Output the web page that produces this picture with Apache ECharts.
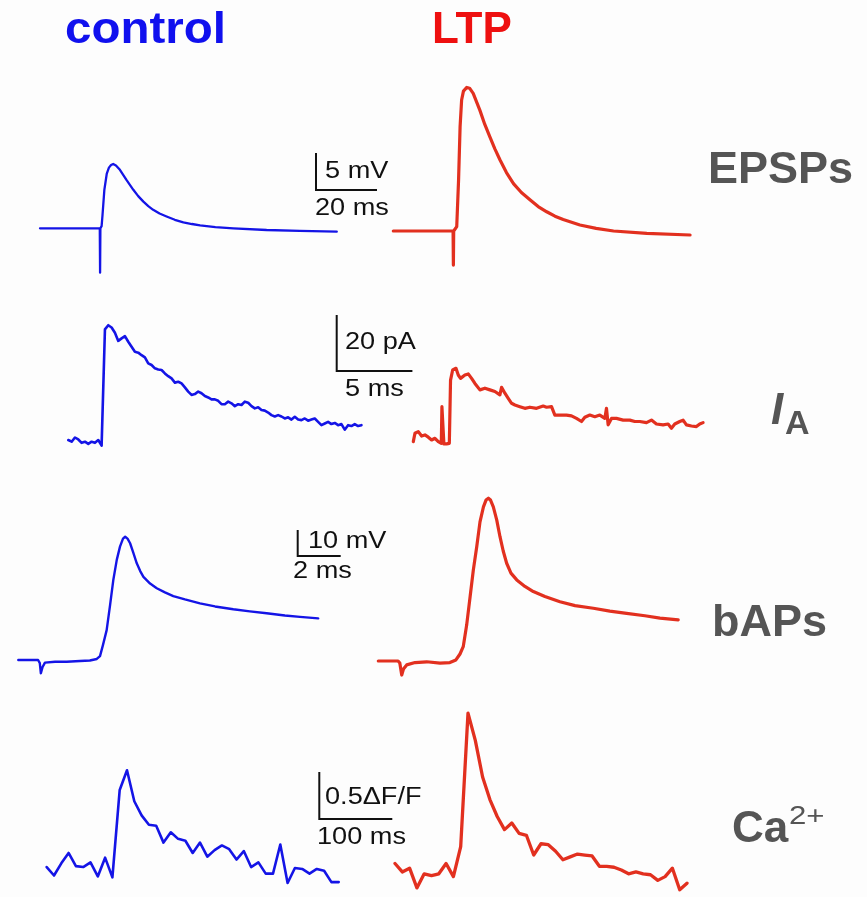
<!DOCTYPE html>
<html>
<head>
<meta charset="utf-8">
<script src="https://cdn.jsdelivr.net/npm/echarts@6.0.0/dist/echarts.min.js"></script>
<style>
  html, body { margin: 0; padding: 0; background: #fdfdfd; }
  #chart { width: 867px; height: 897px; }
</style>
</head>
<body>
<div id="chart"></div>
<script>
// ---------- recorded traces ----------
// EPSPs: [time ms, membrane potential mV relative to rest]
const epspControl = [
  [0, 0], [19.6, 0], [19.7, -6.0], [19.8, 0], [20.2, 0.3], [20.5, 1.8], [21.1, 5.2], [21.9, 7.4],
  [22.6, 8.2], [23.3, 8.55], [24.0, 8.7], [24.9, 8.5], [26.2, 7.9], [28.4, 6.5], [30.6, 5.2],
  [32.2, 4.35], [33.9, 3.6], [35.5, 3.0], [37.1, 2.5], [39.2, 2.0], [41.5, 1.6], [44.2, 1.15],
  [47.0, 0.8], [49.8, 0.58], [52.5, 0.4], [57.5, 0.17], [63.4, 0], [74.3, -0.23],
  [85.2, -0.36], [97.3, -0.46]
];
const epspLTP = [
  [0, 0], [19.6, 0], [19.7, -4.6], [19.8, 0], [20.8, 0.6], [21.4, 6.9], [21.9, 14.1], [22.4, 17.7],
  [23.0, 18.9], [24.1, 19.4], [25.0, 19.3], [26.2, 18.6], [28.4, 16.3], [30.0, 14.4], [31.7, 12.7],
  [33.3, 11.1], [35.0, 9.6], [37.1, 7.9], [39.4, 6.4], [42.0, 5.2], [44.9, 4.2], [47.5, 3.3],
  [50.3, 2.6], [53.0, 2.0], [55.7, 1.55], [61.2, 0.81], [66.5, 0.35], [72.2, 0], [83.1, -0.31],
  [97.3, -0.54]
];

// A-type K+ current: control sampled every 0.22 ms (pA)
const iaSampleMs = 0.22;
const iaControl = [
  0.6, 0, 1.5, 0.8, -0.4, 0, -0.8, 0, -0.4, 0.6,
  -1.4, 40.1, 41.6, 40.8, 38.9, 36.0, 36.9, 37.7, 35.7, 33.9,
  32.1, 31.8, 30.9, 30.1, 28.0, 27.4, 26.2, 25.8, 25.6, 24.4,
  23.4, 22.6, 21.1, 21.4, 20.8, 19.4, 17.9, 16.7, 17.0, 17.9,
  17.3, 16.3, 15.8, 15.1, 15.1, 14.6, 13.4, 13.4, 14.3, 13.7,
  12.7, 13.4, 13.1, 14.3, 13.9, 12.7, 11.9, 12.3, 11.3, 11.1,
  10.4, 9.5, 9.0, 9.5, 9.0, 8.3, 8.7, 7.9, 8.9, 7.9,
  7.7, 8.3, 7.5, 7.9, 8.3, 7.1, 5.9, 6.5, 7.1, 6.3,
  6.7, 5.9, 6.3, 4.3, 5.9, 5.6, 6.3, 5.6, 5.9
];
// after LTP: [time ms, pA], includes the stimulus artifact
const iaLTP = [
  [0, -1.2], [0.11, 1.8], [0.33, 2.4], [0.55, 0.8], [0.77, 1.2], [0.99, 0.4], [1.21, -0.6],
  [1.43, 0], [1.65, -1.2], [1.85, -1.8], [1.89, 11.3], [1.98, 11.3], [2.02, -2.0], [2.2, -2.0],
  [2.38, -1.8], [2.46, 20.8], [2.6, 24.4], [2.82, 25.0], [2.97, 22.6], [3.12, 21.4], [3.41, 22.6],
  [3.63, 23.0], [3.85, 21.4], [4.07, 19.6], [4.4, 17.3], [4.73, 17.9], [5.06, 17.3], [5.39, 16.7],
  [5.72, 15.5], [5.83, 18.2], [6.05, 16.1], [6.27, 14.3], [6.49, 12.5], [6.71, 11.9], [7.04, 11.3],
  [7.37, 10.7], [7.7, 11.1], [8.14, 10.7], [8.58, 11.5], [8.8, 11.1], [9.13, 11.3], [9.35, 8.3],
  [9.68, 8.3], [10.12, 8.3], [10.45, 8.0], [10.78, 7.1], [11.11, 6.0], [11.33, 7.5], [11.66, 8.3],
  [11.99, 7.7], [12.32, 8.3], [12.65, 7.1], [12.76, 10.7], [12.87, 4.8], [13.09, 7.1], [13.42, 7.1],
  [13.86, 6.5], [14.3, 6.5], [14.63, 6.0], [14.96, 6.0], [15.4, 5.6], [15.73, 6.5], [16.06, 5.1],
  [16.5, 4.8], [16.83, 5.1], [17.05, 3.6], [17.27, 5.1], [17.6, 6.0], [17.82, 6.5], [18.04, 4.8],
  [18.37, 4.4], [18.7, 4.2], [18.92, 5.1], [19.14, 5.6]
];

// back-propagating APs: [time ms, mV relative to rest]
const bapControl = [
  [0, 0], [0.92, 0], [1.0, -1.2], [1.05, -5.1], [1.13, -2.7], [1.24, -1.0], [1.71, -0.65],
  [2.25, -0.65], [2.87, -0.4], [3.33, -0.2], [3.65, 0.4], [3.8, 1.5], [3.94, 5.8], [4.11, 11.5],
  [4.27, 21.2], [4.42, 30.8], [4.58, 38.5], [4.73, 43.6], [4.87, 46.7], [4.97, 47.4], [5.08, 46.7],
  [5.2, 44.9], [5.34, 41.5], [5.51, 37.2], [5.67, 34.2], [5.82, 32.0], [6.13, 29.4], [6.44, 27.6],
  [6.82, 26.0], [7.21, 24.6], [7.75, 23.3], [8.45, 21.8], [9.15, 20.6], [10.0, 19.5], [10.77, 18.7],
  [11.55, 18.0], [12.4, 17.1], [13.1, 16.6], [13.95, 16.0]
];
const bapLTP = [
  [0, 0], [0.92, 0], [1.0, -0.8], [1.09, -5.4], [1.17, -3.1], [1.32, -1.5], [1.71, -0.6],
  [2.25, -0.3], [2.87, -0.8], [3.33, -0.6], [3.61, 0.4], [3.8, 2.7], [3.95, 5.5], [4.11, 13.8],
  [4.27, 24.7], [4.42, 35.0], [4.58, 44.0], [4.73, 53.5], [4.89, 59.3], [5.01, 61.9], [5.12, 62.6],
  [5.22, 61.9], [5.35, 59.3], [5.51, 54.2], [5.66, 47.8], [5.81, 42.3], [5.97, 37.6], [6.17, 33.8],
  [6.44, 31.2], [6.82, 28.7], [7.21, 26.7], [7.75, 24.8], [8.45, 22.8], [9.15, 21.3], [10.0, 20.3],
  [10.77, 19.2], [11.55, 18.3], [12.4, 17.4], [13.1, 16.5], [13.95, 15.8]
];

// dendritic Ca2+ transients, one frame every 10 ms (ΔF/F)
const caSampleMs = 10;
const caControl = [
  0.01, -0.08, 0.05, 0.16, 0.02, 0.01, 0.06, -0.09, 0.11, -0.10,
  0.83, 1.04, 0.71, 0.56, 0.46, 0.45, 0.27, 0.38, 0.31, 0.29,
  0.16, 0.27, 0.12, 0.19, 0.24, 0.20, 0.09, 0.18, 0.01, 0.06,
  -0.06, -0.06, 0.25, -0.16, 0.00, -0.01, -0.06, -0.01, -0.03, -0.15, -0.15
];
const caLTP = [
  0.08, -0.01, 0.03, -0.18, -0.03, -0.05, -0.03, 0.08, -0.06, 0.26,
  1.68, 1.39, 1.00, 0.76, 0.58, 0.44, 0.51, 0.40, 0.38, 0.17,
  0.29, 0.28, 0.21, 0.12, 0.15, 0.18, 0.17, 0.16, 0.05, 0.05,
  0.04, 0.01, -0.03, -0.01, -0.03, -0.04, -0.10, -0.06, 0.03, -0.20, -0.13
];

// scale bars: [amplitude, duration] and their captions
const epspScale = [5, 20];
const iaScale = [20, 5];
const bapScale = [10, 2];
const caScale = [0.5, 100];
const epspScaleText = ['5 mV', '20 ms'];
const iaScaleText = ['20 pA', '5 ms'];
const bapScaleText = ['10 mV', '2 ms'];
const caScaleText = ['0.5\u0394F/F', '100 ms'];

const columnTitles = ['control', 'LTP'];
const rowTitles = ['EPSPs', 'I', 'A', 'bAPs', 'Ca', '2+'];

// ---------- layout ----------
const BLUE = '#1414e6';
const RED = '#e2301f';
const FONT = '"Liberation Sans", Arial, Helvetica, sans-serif';

// Each panel: origin pixel (time 0, value 0), pixels per unit on x and y, and visible data range.
function panel(x0, y0, pxX, pxY, tMin, tMax, vMin, vMax) {
  return { x0, y0, pxX, pxY, tMin, tMax, vMin, vMax };
}
const panels = [
  panel(40, 228.3, 61 / 20, 37 / 5, 0, 115, -7, 11),        // EPSP control
  panel(393.3, 231, 61 / 20, 37 / 5, 0, 100, -6, 21),       // EPSP LTP
  panel(68.3, 441.7, 75.7 / 5, 56 / 20, 0, 24, -3, 48),     // I_A control
  panel(413.3, 438.3, 75.7 / 5, 56 / 20, 0, 20, -3, 30),    // I_A LTP
  panel(18.3, 660, 43 / 2, 26 / 10, 0, 15.5, -7, 52),       // bAP control
  panel(378.3, 661, 43 / 2, 26 / 10, 0, 14.5, -7, 66),      // bAP LTP
  panel(46.7, 868, 73 / 100, 47 / 0.5, 0, 480, -0.2, 1.1),  // Ca control
  panel(395, 871, 73 / 100, 47 / 0.5, 0, 410, -0.25, 1.75)  // Ca LTP
];

const grids = panels.map(p => ({
  left: p.x0 + p.tMin * p.pxX,
  top: p.y0 - p.vMax * p.pxY,
  width: (p.tMax - p.tMin) * p.pxX,
  height: (p.vMax - p.vMin) * p.pxY
}));
const xAxes = panels.map((p, i) => ({ type: 'value', gridIndex: i, min: p.tMin, max: p.tMax, show: false }));
const yAxes = panels.map((p, i) => ({ type: 'value', gridIndex: i, min: p.vMin, max: p.vMax, show: false }));

const sampled = (vals, dt) => vals.map((v, i) => [i * dt, v]);

function trace(data, idx, color, width) {
  return {
    type: 'line', data, xAxisIndex: idx, yAxisIndex: idx,
    showSymbol: false, symbol: 'none', clip: false, silent: true,
    lineStyle: { color, width, join: 'round', cap: 'round' }
  };
}

// Scale bar drawn in the control panel's data units; corner given in pixels.
function scaleBar(idx, cornerPx, scale) {
  const p = panels[idx];
  const t = (cornerPx[0] - p.x0) / p.pxX;
  const v = (p.y0 - cornerPx[1]) / p.pxY;
  return {
    type: 'line', xAxisIndex: idx, yAxisIndex: idx, showSymbol: false, symbol: 'none',
    clip: false, silent: true,
    data: [[t, v + scale[0]], [t, v], [t + scale[1], v]],
    lineStyle: { color: '#111', width: 2, join: 'miter', cap: 'butt' }
  };
}

const series = [
  trace(epspControl, 0, BLUE, 2.3),
  trace(epspLTP, 1, RED, 3.2),
  trace(sampled(iaControl, iaSampleMs), 2, BLUE, 2.6),
  trace(iaLTP, 3, RED, 3.2),
  trace(bapControl, 4, BLUE, 2.4),
  trace(bapLTP, 5, RED, 3.2),
  trace(sampled(caControl, caSampleMs), 6, BLUE, 2.6),
  trace(sampled(caLTP, caSampleMs), 7, RED, 3.3),
  scaleBar(0, [316, 190], epspScale),
  scaleBar(2, [336.7, 371], iaScale),
  scaleBar(4, [297.7, 556], bapScale),
  scaleBar(6, [319.3, 819], caScale)
];

// Text placed at (x, y) = left edge, vertical centre; sx widens the glyphs.
function label(text, x, y, size, color, weight, style, sx) {
  return {
    type: 'text', silent: true, z: 10, x, y, scaleX: sx || 1,
    style: {
      text, x: 0, y: 0, fill: color,
      font: (style || 'normal') + ' ' + (weight || 'normal') + ' ' + size + 'px ' + FONT,
      align: 'left', verticalAlign: 'middle',
      textAlign: 'left', textVerticalAlign: 'middle'
    }
  };
}

const GRAY = '#555555';
const INK = '#111111';
const SX = 1.18;
const FS = 23;
const graphics = [
  label(columnTitles[0], 65, 31, 44, '#1010ee', 'bold', null, 1.08),
  label(columnTitles[1], 432, 31, 44, '#ee1010', 'bold'),

  label(rowTitles[0], 708, 171, 45, GRAY, 'bold'),
  label(rowTitles[1], 771, 412, 44, GRAY, 'bold', 'italic'),
  label(rowTitles[2], 785, 425, 34, GRAY, 'bold'),
  label(rowTitles[3], 712, 624, 45, GRAY, 'bold'),
  label(rowTitles[4], 732, 830, 44, GRAY, 'bold'),
  label(rowTitles[5], 789, 817, 26, GRAY, 'normal', null, 1.2),

  label(epspScaleText[0], 325, 172, FS, INK, null, null, SX),
  label(epspScaleText[1], 315, 209, FS, INK, null, null, SX),
  label(iaScaleText[0], 345, 343, FS, INK, null, null, SX),
  label(iaScaleText[1], 345, 390, FS, INK, null, null, SX),
  label(bapScaleText[0], 308, 542, FS, INK, null, null, SX),
  label(bapScaleText[1], 293, 572, FS, INK, null, null, SX),
  label(caScaleText[0], 325, 798, FS, INK, null, null, SX),
  label(caScaleText[1], 317, 838, FS, INK, null, null, SX)
];

const chart = echarts.init(document.getElementById('chart'), null, { renderer: 'canvas' });
chart.setOption({
  backgroundColor: '#fdfdfd',
  animation: false,
  grid: grids,
  xAxis: xAxes,
  yAxis: yAxes,
  series,
  graphic: graphics
});
</script>
</body>
</html>
